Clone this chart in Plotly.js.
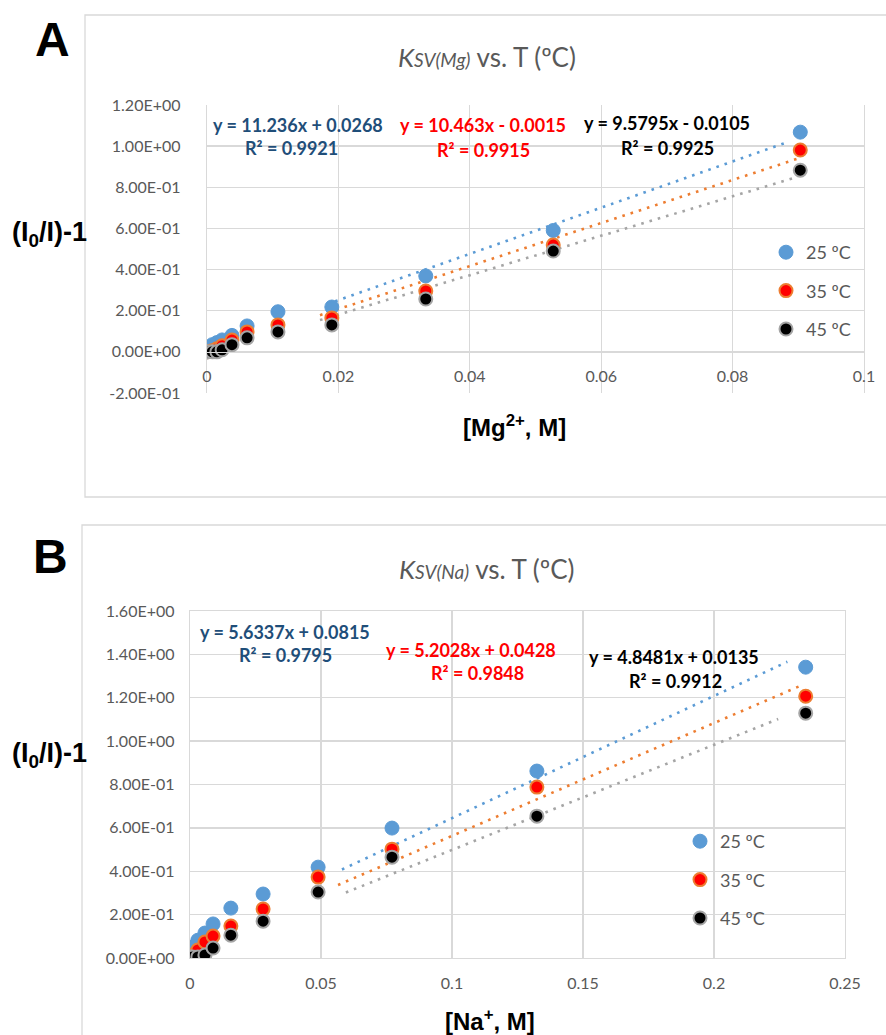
<!DOCTYPE html>
<html>
<head>
<meta charset="utf-8">
<script src="https://cdn.plot.ly/plotly-3.0.1.min.js"></script>
<style>
  html, body { margin: 0; padding: 0; background: #ffffff; }
  #chart { width: 886px; height: 1035px; }
</style>
</head>
<body>
<div id="chart"></div>
<script>
// ---- Panel A: Mg2+ quenching ----
const mgConc = [0, 0.0008, 0.0015, 0.0023, 0.0038, 0.0061, 0.0108, 0.019, 0.0333, 0.0527, 0.0903];
const mg25 = [0.0, 0.035, 0.045, 0.058, 0.08, 0.126, 0.195, 0.218, 0.369, 0.59, 1.068];
const mg35 = [0.0, 0.005, 0.015, 0.03, 0.058, 0.097, 0.131, 0.165, 0.296, 0.519, 0.981];
const mg45 = [0.0, 0.0, 0.0, 0.01, 0.035, 0.068, 0.097, 0.131, 0.257, 0.49, 0.883];
const mgSlope = [11.236, 10.463, 9.5795];
const mgIntercept = [0.0268, -0.0015, -0.0105];
const mgR2 = ['0.9921', '0.9915', '0.9925'];
const mgFitFrom = [0.0195, 0.0172, 0.0172];
const mgFitTo = [0.0883, 0.090, 0.0895];
const mgXTicks = [0, 0.02, 0.04, 0.06, 0.08, 0.1];
const mgXTickText = ['0', '0.02', '0.04', '0.06', '0.08', '0.1'];
const mgYTicks = [-0.2, 0, 0.2, 0.4, 0.6, 0.8, 1.0, 1.2];
const mgYTickText = ['-2.00E-01', '0.00E+00', '2.00E-01', '4.00E-01', '6.00E-01', '8.00E-01', '1.00E+00', '1.20E+00'];

// ---- Panel B: Na+ quenching ----
const naConc = [0, 0.001, 0.003, 0.0057, 0.0088, 0.0156, 0.0279, 0.0489, 0.0771, 0.1324, 0.235];
const na25 = [0.02, 0.05, 0.082, 0.115, 0.157, 0.23, 0.295, 0.419, 0.599, 0.862, 1.341];
const na35 = [0.01, 0.014, 0.037, 0.074, 0.101, 0.147, 0.226, 0.373, 0.502, 0.788, 1.207];
const na45 = [0.005, 0.005, 0.005, 0.014, 0.046, 0.105, 0.17, 0.304, 0.465, 0.654, 1.129];
const naSlope = [5.6337, 5.2028, 4.8481];
const naIntercept = [0.0815, 0.0428, 0.0135];
const naR2 = ['0.9795', '0.9848', '0.9912'];
const naFitFrom = [0.058, 0.0565, 0.0595];
const naFitTo = [0.228, 0.2325, 0.2245];
const naXTicks = [0, 0.05, 0.1, 0.15, 0.2, 0.25];
const naXTickText = ['0', '0.05', '0.1', '0.15', '0.2', '0.25'];
const naYTicks = [0, 0.2, 0.4, 0.6, 0.8, 1.0, 1.2, 1.4, 1.6];
const naYTickText = ['0.00E+00', '2.00E-01', '4.00E-01', '6.00E-01', '8.00E-01', '1.00E+00', '1.20E+00', '1.40E+00', '1.60E+00'];

const seriesNames = ['25 ºC', '35 ºC', '45 ºC'];

// ---- styling ----
const W = 886, H = 1035;
const px = v => v / W;          // horizontal pixel -> paper
const py = v => 1 - v / H;      // vertical pixel -> paper
const GRID = '#D9D9D9';
const TICK = '#595959';
const fitColors = ['#5B9BD5', '#ED7D31', '#A5A5A5'];
const eqColors = ['#1F4E79', '#FF0000', '#000000'];
const markerStyles = [
  { color: '#5B9BD5', size: 14, line: { color: '#5B9BD5', width: 1 } },
  { color: '#FF0000', size: 13, line: { color: '#ED7D31', width: 2 } },
  { color: '#000000', size: 13, line: { color: '#A5A5A5', width: 2 } }
];

function fitTrace(m, b, x0, x1, color, xa, ya) {
  return {
    x: [x0, x1], y: [m * x0 + b, m * x1 + b],
    type: 'scatter', mode: 'lines', xaxis: xa, yaxis: ya,
    line: { color: color, width: 2.6, dash: '2.6px,6px' },
    showlegend: false, hoverinfo: 'skip'
  };
}
function pointTrace(x, y, i, xa, ya, legend) {
  return {
    x: x, y: y, type: 'scatter', mode: 'markers', xaxis: xa, yaxis: ya,
    name: seriesNames[i], legend: legend, legendgroup: legend + i,
    marker: markerStyles[i], hoverinfo: 'skip'
  };
}

const traces = [];
const mgSeries = [mg25, mg35, mg45];
const naSeries = [na25, na35, na45];
for (let i = 0; i < 3; i++) {
  traces.push(fitTrace(mgSlope[i], mgIntercept[i], mgFitFrom[i], mgFitTo[i], fitColors[i], 'x', 'y'));
  traces.push(fitTrace(naSlope[i], naIntercept[i], naFitFrom[i], naFitTo[i], fitColors[i], 'x2', 'y2'));
}
for (let i = 0; i < 3; i++) {
  traces.push(pointTrace(mgConc, mgSeries[i], i, 'x', 'y', 'legend'));
}
for (let i = 0; i < 3; i++) {
  traces.push(pointTrace(naConc, naSeries[i], i, 'x2', 'y2', 'legend2'));
}

function fmtEq(m, b) {
  const sign = b < 0 ? ' - ' : ' + ';
  return 'y = ' + m + 'x' + sign + Math.abs(b).toFixed(4);
}

const tickFont = { family: 'Lato, sans-serif', size: 16, color: TICK };
const boldFont = (size) => ({ family: '"Liberation Sans", Arial, sans-serif', size: size, color: '#000000' });

// equation label positions (pixels)
const mgEqPos = [[298, 125, 291, 148], [483, 125, 483, 150], [667, 123, 667, 148]];
const naEqPos = [[285, 632, 285, 655], [471, 650, 477, 673], [674, 657, 675, 681]];

const annotations = [];
function addEquations(slopes, intercepts, r2, pos) {
  for (let i = 0; i < 3; i++) {
    const f = { family: 'Lato, sans-serif', size: 18, color: eqColors[i] };
    annotations.push({ xref: 'paper', yref: 'paper', x: px(pos[i][0]), y: py(pos[i][1]),
      text: '<b>' + fmtEq(slopes[i], intercepts[i]) + '</b>', showarrow: false, font: f,
      xanchor: 'center', yanchor: 'middle' });
    annotations.push({ xref: 'paper', yref: 'paper', x: px(pos[i][2]), y: py(pos[i][3]),
      text: '<b>R² = ' + r2[i] + '</b>', showarrow: false, font: f,
      xanchor: 'center', yanchor: 'middle' });
  }
}
addEquations(mgSlope, mgIntercept, mgR2, mgEqPos);
addEquations(naSlope, naIntercept, naR2, naEqPos);

const titleFont = { family: 'Lato, sans-serif', size: 26, color: TICK };
function chartTitle(ion) {
  return '<i>K<span style="font-size:19px">SV(' + ion + ')</span></i> vs. T (ºC)';
}

// panel letters, titles, axis titles
annotations.push(
  { xref: 'paper', yref: 'paper', x: px(52), y: py(40), text: '<b>A</b>', showarrow: false,
    font: boldFont(48), xanchor: 'center', yanchor: 'middle' },
  { xref: 'paper', yref: 'paper', x: px(50), y: py(556), text: '<b>B</b>', showarrow: false,
    font: boldFont(48), xanchor: 'center', yanchor: 'middle' },
  { xref: 'paper', yref: 'paper', x: px(487), y: py(57), showarrow: false,
    text: chartTitle('Mg'), font: titleFont, xanchor: 'center', yanchor: 'middle' },
  { xref: 'paper', yref: 'paper', x: px(487), y: py(569), showarrow: false,
    text: chartTitle('Na'), font: titleFont, xanchor: 'center', yanchor: 'middle' },
  { xref: 'paper', yref: 'paper', x: px(49), y: py(234), showarrow: false,
    text: '<b>(I<sub>0</sub>/I)-1</b>', font: boldFont(27), xanchor: 'center', yanchor: 'middle' },
  { xref: 'paper', yref: 'paper', x: px(49), y: py(755), showarrow: false,
    text: '<b>(I<sub>0</sub>/I)-1</b>', font: boldFont(27), xanchor: 'center', yanchor: 'middle' },
  { xref: 'paper', yref: 'paper', x: px(514), y: py(426), showarrow: false,
    text: '<b>[Mg<sup>2+</sup>, M]</b>', font: boldFont(24), xanchor: 'center', yanchor: 'middle' },
  { xref: 'paper', yref: 'paper', x: px(490), y: py(1020), showarrow: false,
    text: '<b>[Na<sup>+</sup>, M]</b>', font: boldFont(24), xanchor: 'center', yanchor: 'middle' }
);

// chart-area frames
const shapes = [
  { type: 'rect', xref: 'paper', yref: 'paper', x0: px(85), x1: px(900), y0: py(497), y1: py(15),
    line: { color: GRID, width: 1.3 } },
  { type: 'rect', xref: 'paper', yref: 'paper', x0: px(82), x1: px(900), y0: py(1060), y1: py(525),
    line: { color: GRID, width: 1.3 } }
];

const mgYDomain = [py(393), py(105)];
const mgZero = mgYDomain[0] + (0 - (-0.2)) / 1.4 * (mgYDomain[1] - mgYDomain[0]);

const axisCommon = {
  showgrid: true, gridcolor: GRID, gridwidth: 1.3, zeroline: false,
  showline: true, linecolor: GRID, linewidth: 1.3, ticks: '', tickfont: tickFont
};

const layout = {
  width: W, height: H,
  margin: { l: 0, r: 0, t: 0, b: 0 },
  paper_bgcolor: '#ffffff', plot_bgcolor: '#ffffff',
  showlegend: true,
  xaxis: Object.assign({}, axisCommon, {
    domain: [px(207), px(864)], range: [0, 0.1], anchor: 'free', position: mgZero,
    tickvals: mgXTicks, ticktext: mgXTickText, ticklabelstandoff: 10
  }),
  yaxis: Object.assign({}, axisCommon, {
    domain: mgYDomain, range: [-0.2, 1.2], anchor: 'x', mirror: true,
    tickvals: mgYTicks, ticktext: mgYTickText, ticklabelstandoff: 22
  }),
  xaxis2: Object.assign({}, axisCommon, {
    domain: [px(190), px(845)], range: [0, 0.25], anchor: 'y2', mirror: true,
    tickvals: naXTicks, ticktext: naXTickText, ticklabelstandoff: 10
  }),
  yaxis2: Object.assign({}, axisCommon, {
    domain: [py(958), py(611)], range: [0, 1.6], anchor: 'x2', mirror: true,
    tickvals: naYTicks, ticktext: naYTickText, ticklabelstandoff: 11
  }),
  legend: {
    x: px(766), xanchor: 'left', y: py(234), yanchor: 'top',
    bgcolor: 'rgba(0,0,0,0)', borderwidth: 0,
    font: { family: 'Lato, sans-serif', size: 18, color: TICK },
    traceorder: 'grouped', tracegroupgap: 12
  },
  legend2: {
    x: px(680), xanchor: 'left', y: py(823), yanchor: 'top',
    bgcolor: 'rgba(0,0,0,0)', borderwidth: 0,
    font: { family: 'Lato, sans-serif', size: 18, color: TICK },
    traceorder: 'grouped', tracegroupgap: 12
  },
  annotations: annotations,
  shapes: shapes
};

Plotly.newPlot('chart', traces, layout, { staticPlot: true, displayModeBar: false });
</script>
</body>
</html>
